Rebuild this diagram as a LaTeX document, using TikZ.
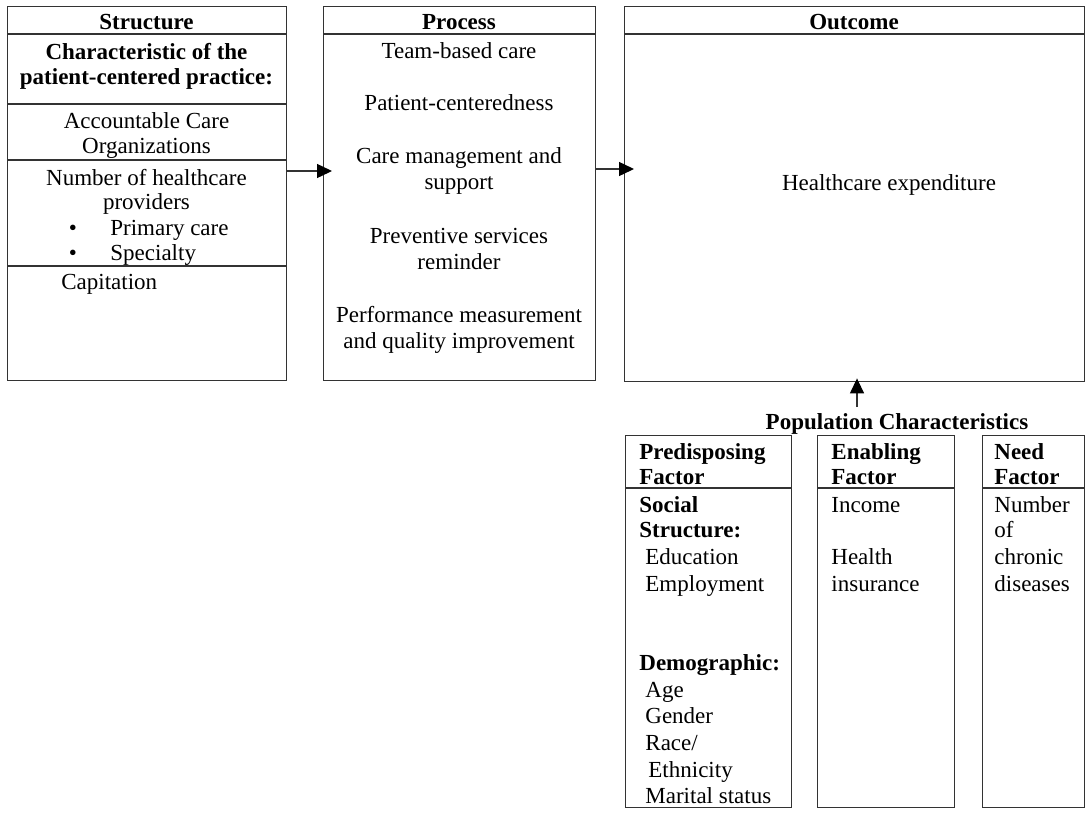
\documentclass[tikz,border=0pt]{standalone}
\usepackage{fontspec}
\setmainfont{Liberation Serif}
\usetikzlibrary{arrows.meta}
\newcommand{\figsize}{\fontsize{11.5}{13}\selectfont}
\tikzset{
	box/.style={draw=black!80, line width=0.7pt, rectangle, inner sep=0pt, anchor=north west},
	rule/.style={draw=black!80, line width=0.7pt},
	txt/.style={inner sep=0pt, anchor=base, font=\figsize},
	txtl/.style={inner sep=0pt, anchor=base west, font=\figsize},
	hd/.style={txt, font=\figsize\bfseries},
	hdl/.style={txtl, font=\figsize\bfseries},
}
\begin{document}
\begin{tikzpicture}[>={Triangle[length=7.5pt,width=7pt,color=black]}, x=0.5pt, y=-0.5pt]
	\useasboundingbox (0,0) rectangle (1086,814);
	% main boxes
	\node[box, minimum width=139.5pt, minimum height=187pt] (structure) at (7,6) {};
	\node[box, minimum width=136pt, minimum height=187pt] (process) at (323,6) {};
	\node[box, minimum width=230pt, minimum height=187.5pt] (outcome) at (624,6) {};
	\foreach \b in {structure, process, outcome}
	\draw[rule] (\b.west |- 0,34) -- (\b.east |- 0,34);
	\foreach \yy in {104,160,266}
	\draw[rule] (structure.west |- 0,\yy) -- (structure.east |- 0,\yy);
	% structure
	\node[hd] (s-head) at (146.5,29) {Structure};
	\node[hd] (s-char1) at (146.5,59) {Characteristic of the};
	\node[hd] (s-char2) at (146.5,84) {patient-centered practice:};
	\foreach \yy/\t in {128/Accountable Care, 153/Organizations, 185/Number of healthcare, 209/providers}
	\node[txt] (s-\yy) at (146.5,\yy) {\t};
	\node[txt] (s-bul1) at (73,235) {\textbullet};
	\node[txtl] (s-prim) at (110,235) {Primary care};
	\node[txt] (s-bul2) at (73,260) {\textbullet};
	\node[txtl] (s-spec) at (110,260) {Specialty};
	\node[txtl] (s-cap) at (61,289) {Capitation};
	% process
	\node[hd] (p-head) at (459,29) {Process};
	\foreach \yy/\t in {58/Team-based care, 110/Patient-centeredness, 163/Care management and, 189/support, 243/Preventive services, 269/reminder, 322/Performance measurement, 348/and quality improvement}
	\node[txt] (p-\yy) at (459,\yy) {\t};
	% outcome
	\node[hd] (o-head) at (854,29) {Outcome};
	\node[txt] (o-exp) at (889,190) {Healthcare expenditure};
	% arrows
	\draw[->, rule, shorten >=-4.5pt] (structure.east |- 0,171) -- (process.west |- 0,171);
	\draw[->, rule, shorten >=-5pt] (process.east |- 0,169) -- (outcome.west |- 0,169);
	% population characteristics
	\node[hd] (popchar) at (897,429) {Population Characteristics};
	\coordinate (pop-arrow) at (857,407);
	\draw[->, rule, shorten >=-2pt] (pop-arrow) -- (pop-arrow |- outcome.south);
	\node[box, minimum width=83pt, minimum height=186pt] (predisp) at (625,435) {};
	\node[box, minimum width=68.5pt, minimum height=186pt] (enabling) at (817,435) {};
	\node[box, minimum width=51pt, minimum height=186pt] (need) at (982,435) {};
	\foreach \b in {predisp, enabling, need}
	\draw[rule] (\b.west |- 0,488) -- (\b.east |- 0,488);
	% predisposing
	\foreach \yy/\t in {459/Predisposing, 484/Factor, 512/Social, 537/Structure:, 670/Demographic:}
	\node[hdl] (pr-\yy) at (639,\yy) {\t};
	\foreach \yy/\t in {564/Education, 591/Employment, 697/Age, 723/Gender, 750/{Race/}, 803/Marital status}
	\node[txtl] (pr-\yy) at (645,\yy) {\t};
	\node[txtl] (pr-777) at (648,777) {Ethnicity};
	% enabling
	\node[hdl] (en-459) at (831,459) {Enabling};
	\node[hdl] (en-484) at (831,484) {Factor};
	\foreach \yy/\t in {512/Income, 564/Health, 591/insurance}
	\node[txtl] (en-\yy) at (831,\yy) {\t};
	% need
	\node[hdl] (ne-459) at (994,459) {Need};
	\node[hdl] (ne-484) at (994,484) {Factor};
	\foreach \yy/\t in {512/Number, 537/of, 564/chronic, 591/diseases}
	\node[txtl] (ne-\yy) at (994,\yy) {\t};
\end{tikzpicture}
\end{document}
